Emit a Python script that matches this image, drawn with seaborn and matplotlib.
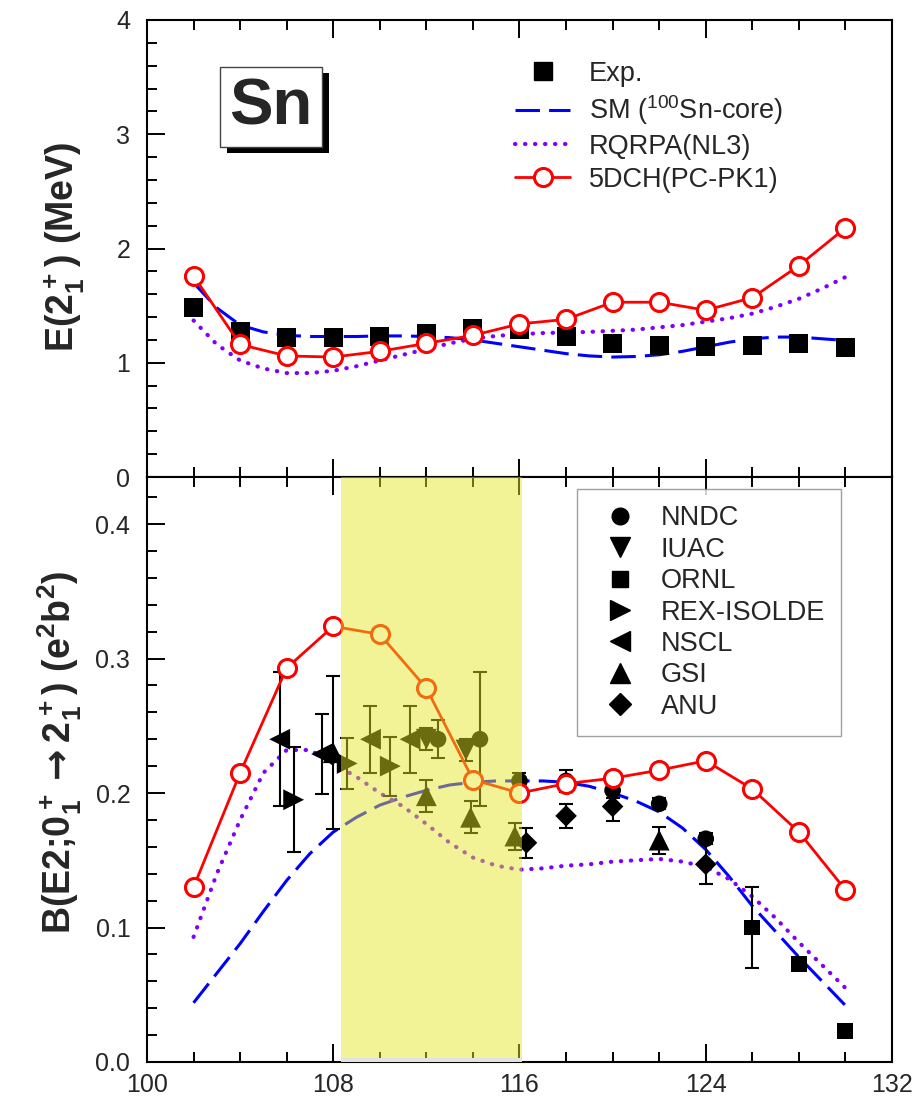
import numpy as np
import pandas as pd
import matplotlib
matplotlib.use("Agg")
import matplotlib.pyplot as plt
from matplotlib.lines import Line2D
from matplotlib.patches import Rectangle
from matplotlib.ticker import MultipleLocator, FixedLocator, FormatStrFormatter
import seaborn as sns

# ---------------- data ----------------
# mass numbers of the even-even Sn isotopes
mass_even = [102, 104, 106, 108, 110, 112, 114, 116, 118, 120, 122, 124, 126, 128, 130]
# mass grid for the smooth theory curves
mass_fine = list(range(102, 131))
x_major = [100, 108, 116, 124, 132]

# E(2+_1) in MeV
e2_exp = [1.48, 1.27, 1.22, 1.22, 1.23, 1.26, 1.30, 1.29, 1.23, 1.17, 1.15, 1.14, 1.15, 1.17, 1.13]
e2_5dch = [1.76, 1.16, 1.06, 1.05, 1.10, 1.17, 1.24, 1.34, 1.38, 1.53, 1.53, 1.46, 1.57, 1.85, 2.18]
e2_sm = [1.70, 1.48, 1.33, 1.27, 1.24, 1.23, 1.23, 1.23, 1.235, 1.235, 1.23, 1.22, 1.20, 1.17, 1.14,
         1.11, 1.08, 1.06, 1.05, 1.055, 1.07, 1.10, 1.14, 1.18, 1.21, 1.225, 1.225, 1.21, 1.195]
e2_rqrpa = [1.37, 1.16, 1.02, 0.95, 0.91, 0.91, 0.93, 0.97, 1.02, 1.07, 1.12, 1.17, 1.21, 1.235, 1.25,
            1.26, 1.265, 1.27, 1.28, 1.29, 1.31, 1.33, 1.36, 1.39, 1.43, 1.49, 1.56, 1.65, 1.75]

# B(E2; 0+_1 -> 2+_1) in e^2 b^2
be2_5dch = [0.130, 0.215, 0.293, 0.324, 0.318, 0.278, 0.210, 0.200, 0.207, 0.211, 0.217, 0.224, 0.203, 0.171, 0.128]
be2_sm = [0.044, 0.066, 0.088, 0.112, 0.135, 0.155, 0.171, 0.182, 0.191, 0.197, 0.202, 0.206, 0.208, 0.209, 0.209,
          0.209, 0.208, 0.205, 0.200, 0.194, 0.186, 0.174, 0.158, 0.138, 0.116, 0.097, 0.078, 0.060, 0.042]
be2_rqrpa = [0.093, 0.140, 0.180, 0.215, 0.232, 0.232, 0.222, 0.212, 0.200, 0.190, 0.177, 0.163, 0.152, 0.146, 0.143,
             0.144, 0.146, 0.147, 0.149, 0.150, 0.151, 0.149, 0.145, 0.136, 0.123, 0.107, 0.089, 0.072, 0.055]

# measurements by laboratory: mass number, value, error
nndc_a = [112, 114, 116, 118, 120, 122, 124]
nndc_b = [0.240, 0.240, 0.209, 0.209, 0.202, 0.192, 0.166]
nndc_e = [0.014, 0.050, 0.006, 0.008, 0.006, 0.004, 0.004]

iuac_a = [112, 114]
iuac_b = [0.240, 0.232]
iuac_e = [0.008, 0.008]

ornl_a = [126, 128, 130]
ornl_b = [0.100, 0.073, 0.023]
ornl_e = [0.030, 0.004, 0.000]

rex_a = [106, 108, 110]
rex_b = [0.195, 0.222, 0.220]
rex_e = [0.039, 0.019, 0.022]

nscl_a = [106, 108, 110, 112]
nscl_b = [0.240, 0.229, 0.240, 0.240]
nscl_e = [0.050, 0.030, 0.025, 0.025]

gsi_a = [108, 112, 114, 116, 122]
gsi_b = [0.230, 0.198, 0.182, 0.168, 0.165]
gsi_e = [0.057, 0.012, 0.012, 0.010, 0.010]

anu_a = [116, 118, 120, 124]
anu_b = [0.163, 0.183, 0.190, 0.147]
anu_e = [0.011, 0.009, 0.011, 0.015]

# small horizontal displacements that keep overlapping symbols apart
nndc_dx = [0.5, 0.3, 0.0, 0.0, 0.0, 0.0, 0.0]
iuac_dx = [0.0, -0.3]
ornl_dx = [0.0, 0.0, 0.0]
rex_dx = [0.3, 0.6, 0.45]
nscl_dx = [-0.3, -0.5, -0.4, -0.7]
gsi_dx = [0.0, 0.0, -0.1, -0.2, 0.0]
anu_dx = [0.3, 0.0, 0.0, 0.0]

# ---------------- style ----------------
sns.set_theme(style="ticks")
plt.rcParams["font.family"] = ["Liberation Sans", "DejaVu Sans"]
plt.rcParams["mathtext.fontset"] = "custom"
plt.rcParams["mathtext.rm"] = "Liberation Sans"
plt.rcParams["mathtext.bf"] = "Liberation Sans:bold"
plt.rcParams["mathtext.sf"] = "DejaVu Sans:bold"
plt.rcParams["mathtext.default"] = "regular"

RED = "#ff0000"
BLUE = "#0000ff"
VIOLET = "#8000ff"
LW_AX = 1.5

fig = plt.figure(figsize=(9.13, 11.03), dpi=100)
ax1 = fig.add_axes([0.161, 0.5675, 0.816, 0.4144])
ax2 = fig.add_axes([0.161, 0.0372, 0.816, 0.5303])

dash_sm = (0, (8, 3))
dot_rq = (0, (0.1, 2.3))

# ---------------- upper panel ----------------
sns.lineplot(x=mass_fine, y=e2_sm, ax=ax1, color=BLUE, lw=2.2, linestyle=dash_sm, zorder=3)
sns.lineplot(x=mass_fine, y=e2_rqrpa, ax=ax1, color=VIOLET, lw=3.0, linestyle=dot_rq,
             dash_capstyle="round", zorder=3)
sns.scatterplot(x=mass_even, y=e2_exp, ax=ax1, marker="s", s=185, color="black",
                edgecolor="none", zorder=4)
sns.lineplot(x=mass_even, y=e2_5dch, ax=ax1, color=RED, lw=2.0, marker="o", markersize=13,
             markerfacecolor="white", markeredgecolor=RED, markeredgewidth=2.2, zorder=5)

ax1.set_xlim(100, 132)
ax1.set_ylim(0, 4)
ax1.yaxis.set_major_locator(MultipleLocator(1))
ax1.yaxis.set_minor_locator(MultipleLocator(0.2))
ax1.set_ylabel(r"E(2$\mathbf{_1^+}$) (MeV)", fontsize=27, fontweight="bold")
ax1.yaxis.set_label_coords(-0.081, 0.503)
ax1.set_xlabel("")

h_top = [
    Line2D([], [], ls="none", marker="s", markersize=13, color="black"),
    Line2D([], [], color=BLUE, lw=2.2, linestyle=dash_sm),
    Line2D([], [], color=VIOLET, lw=3.0, linestyle=dot_rq, dash_capstyle="round"),
    Line2D([], [], color=RED, lw=2.0, marker="o", markersize=13, markerfacecolor="white",
           markeredgecolor=RED, markeredgewidth=2.2),
]
l_top = ["Exp.", r"SM ($^{100}$Sn-core)", "RQRPA(NL3)", "5DCH(PC-PK1)"]
ax1.legend(h_top, l_top, loc="upper left", bbox_to_anchor=(0.48, 0.935), frameon=False,
           fontsize=19.5, handlelength=2.0, handletextpad=0.7, labelspacing=0.25, borderaxespad=0)

# element box with drop shadow
ax1.add_patch(Rectangle((0.1074, 0.709), 0.137, 0.175, transform=ax1.transAxes,
                        facecolor="black", edgecolor="none", zorder=6))
ax1.add_patch(Rectangle((0.098, 0.722), 0.137, 0.175, transform=ax1.transAxes,
                        facecolor="white", edgecolor="#444444", lw=1.0, zorder=7))
ax1.text(0.098 + 0.137 / 2, 0.722 + 0.175 / 2, "Sn", transform=ax1.transAxes,
         ha="center", va="center", fontsize=47, fontweight="bold", zorder=8)

# ---------------- lower panel ----------------
sns.lineplot(x=mass_fine, y=be2_sm, ax=ax2, color=BLUE, lw=2.2, linestyle=dash_sm, zorder=3)
sns.lineplot(x=mass_fine, y=be2_rqrpa, ax=ax2, color=VIOLET, lw=3.0, linestyle=dot_rq,
             dash_capstyle="round", zorder=3)
sns.lineplot(x=mass_even, y=be2_5dch, ax=ax2, color=RED, lw=2.0, marker="o", markersize=13,
             markerfacecolor="white", markeredgecolor=RED, markeredgewidth=2.2, zorder=5)

labs = [
    ("NNDC", nndc_a, nndc_b, nndc_e, nndc_dx, "o", 12),
    ("IUAC", iuac_a, iuac_b, iuac_e, iuac_dx, "v", 15),
    ("ORNL", ornl_a, ornl_b, ornl_e, ornl_dx, "s", 11.5),
    ("REX-ISOLDE", rex_a, rex_b, rex_e, rex_dx, ">", 15),
    ("NSCL", nscl_a, nscl_b, nscl_e, nscl_dx, "<", 15),
    ("GSI", gsi_a, gsi_b, gsi_e, gsi_dx, "^", 15),
    ("ANU", anu_a, anu_b, anu_e, anu_dx, "D", 11),
]
h_bot = []
for name, a, b, e, dx, mk, ms in labs:
    xs = np.asarray(a, float) + np.asarray(dx, float)
    ax2.errorbar(xs, b, yerr=e, fmt="none", ecolor="black", elinewidth=1.5,
                 capsize=5, capthick=1.5, zorder=4)
    df = pd.DataFrame({"A": xs, "B": b})
    sns.scatterplot(data=df, x="A", y="B", ax=ax2, marker=mk, s=ms ** 2, color="black",
                    edgecolor="none", zorder=4.5)
    h_bot.append(Line2D([], [], ls="none", marker=mk, markersize=ms, color="black"))

leg = ax2.legend(h_bot, [t[0] for t in labs], loc="upper left", bbox_to_anchor=(0.577, 0.9795),
                 frameon=True, fancybox=False, fontsize=19.5, handlelength=2.0,
                 handletextpad=0.5, labelspacing=0.2, borderpad=0.6, borderaxespad=0)
leg.get_frame().set_edgecolor("#888888")
leg.get_frame().set_linewidth(1.0)

# shaded mass region
ax2.axvspan(108.35, 116.1, ymin=0.006, ymax=1.0, color=(0.894, 0.894, 0.133), alpha=0.47,
            lw=0, zorder=20)
ax2.axvspan(108.35, 116.1, ymin=0.0, ymax=0.006, color="#e2e2e2", lw=0, zorder=19)

ax2.set_xlim(100, 132)
ax2.set_ylim(0, 0.435)
ax2.yaxis.set_major_locator(MultipleLocator(0.1))
ax2.yaxis.set_minor_locator(MultipleLocator(0.02))
ax2.yaxis.set_major_formatter(FormatStrFormatter("%.1f"))
ax2.set_ylabel(r"B(E2;0$\mathbf{_1^+}$$\mathsf{\rightarrow}$2$\mathbf{_1^+}$) (e$\mathbf{^2}$b$\mathbf{^2}$)",
               fontsize=27, fontweight="bold")
ax2.yaxis.set_label_coords(-0.085, 0.53)
ax2.set_xlabel("")

# ---------------- axes decoration ----------------
for ax in (ax1, ax2):
    ax.xaxis.set_major_locator(FixedLocator(x_major))
    ax.xaxis.set_minor_locator(MultipleLocator(2))
    ax.tick_params(which="both", direction="in", top=True, right=False, width=1.4,
                   labelsize=18, color="black")
    ax.tick_params(which="major", length=13)
    ax.tick_params(which="minor", length=7)
    ax.tick_params(axis="y", pad=12)
    ax.tick_params(axis="x", pad=8)
    for sp in ax.spines.values():
        sp.set_linewidth(LW_AX)
        sp.set_color("black")
        sp.set_visible(True)
    ax.grid(False)
    ax.set_facecolor("white")

ax2.set_xticklabels([str(v) for v in x_major])
ax1.tick_params(axis="x", labelbottom=False)

fig.savefig("out.png", dpi=100)
